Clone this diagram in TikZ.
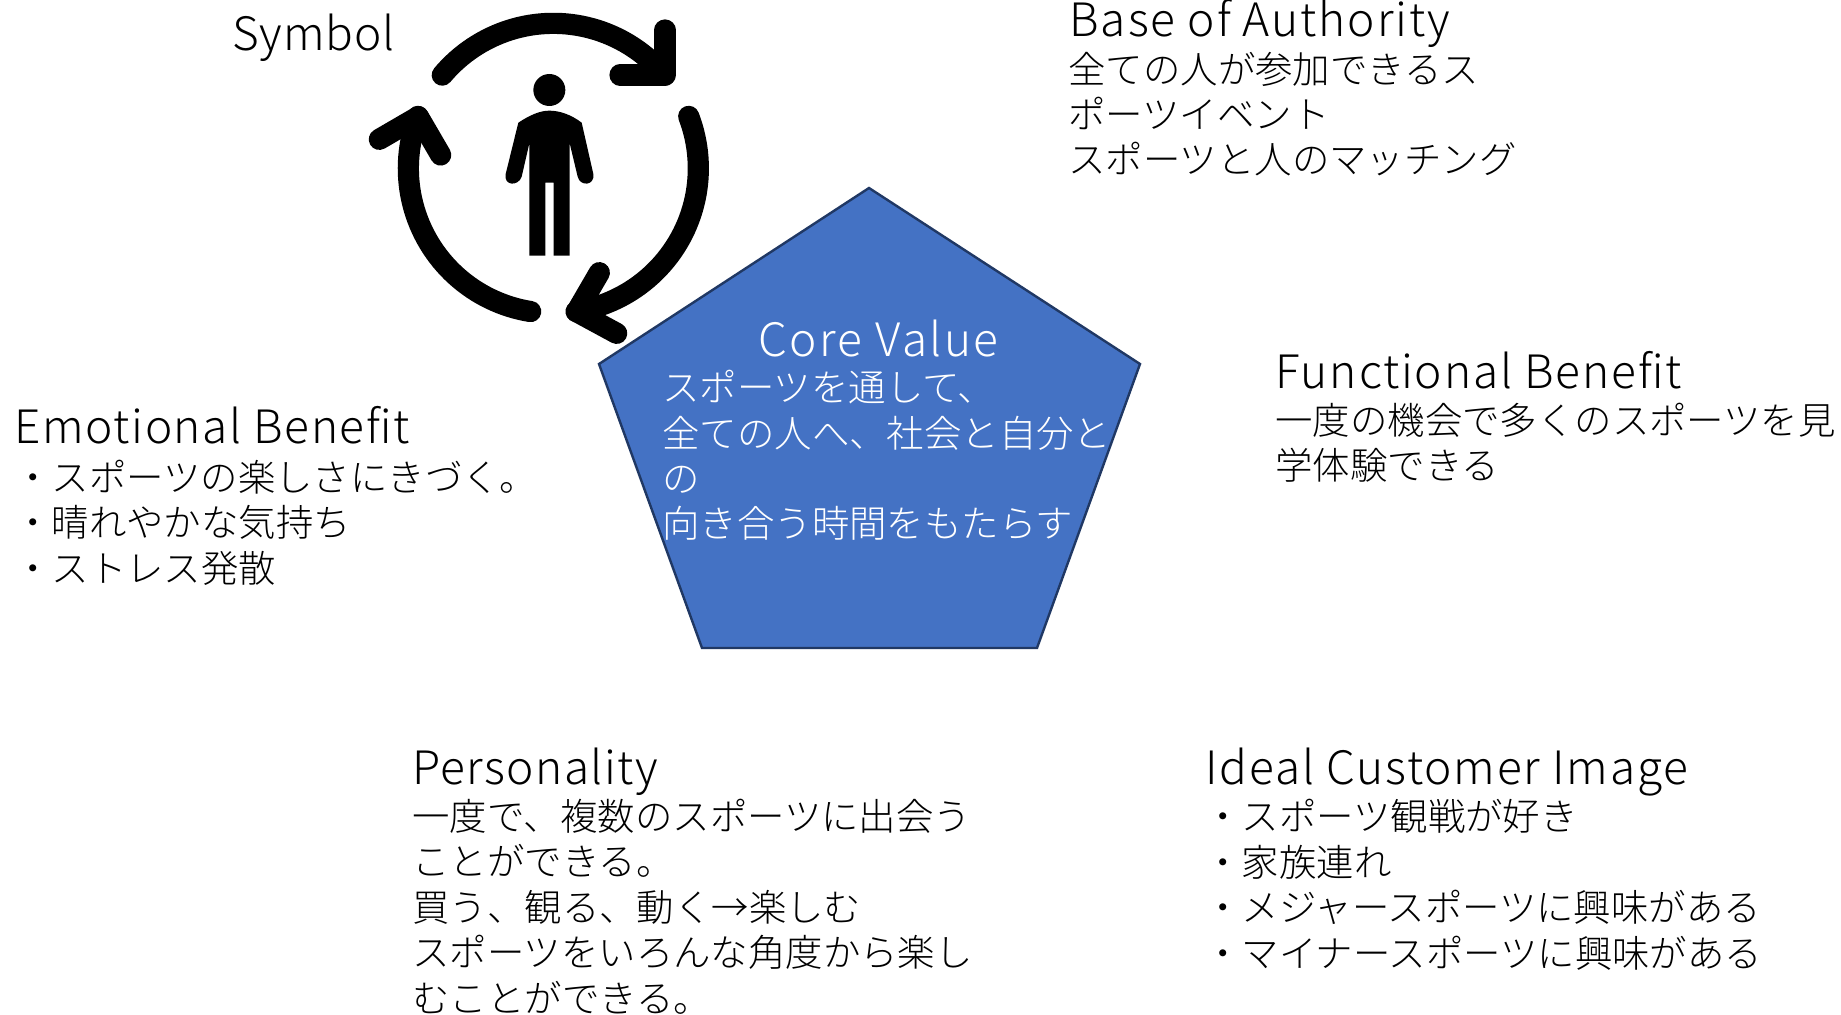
\documentclass[tikz,border=0pt]{standalone}
\usepackage{fontspec}
\setmainfont{Noto Sans CJK JP Light}
\newfontfamily\ttlfont{Noto Sans CJK JP Light}[LetterSpace=4.0]
\tikzset{
  x=0.5pt,y=-0.5pt,
  ttl/.style={anchor=base west,inner sep=0pt,font=\ttlfont\fontsize{23pt}{27pt}\selectfont,text=black},
  bdy/.style={anchor=base west,inner sep=0pt,align=left,font=\fontsize{18.7pt}{22.7pt}\selectfont,text=black},
  penta/.style={draw=penedge,fill=penfill,line width=1.2pt,line join=miter},
  ring/.style={draw=black,line width=10.6pt,line cap=round,line join=round},
}
\definecolor{penfill}{HTML}{4472C4}
\definecolor{penedge}{HTML}{203864}
\begin{document}
\begin{tikzpicture}
\useasboundingbox (0,0) rectangle (1841,1015);
% pentagon
\coordinate (pt) at (869,188);
\coordinate (pr) at (1140,364);
\coordinate (pbr) at (1037,648);
\coordinate (pbl) at (702,648);
\coordinate (pl) at (599,364);
\draw[penta] (pt)--(pr)--(pbr)--(pbl)--(pl)--cycle;
% icon
\begin{scope}[shift={(340,0)},x=0.16667pt,y=-0.16667pt]
\draw[ring] plot[domain=140:40,samples=50] ({640+435*cos(\x)},{505-435*sin(\x)});
\draw[ring] (975,90)--(975,225)--(840,225);
\draw[ring] plot[domain=21:-81,samples=50] ({640+435*cos(\x)},{505-435*sin(\x)});
\draw[ring] (778,818)--(710,935)--(830,1000);
\draw[ring] plot[domain=261:159,samples=50] ({640+435*cos(\x)},{505-435*sin(\x)});
\draw[ring] (118,418)--(235,350)--(302,465);
\fill[black] (628,270) circle[radius=48];
\fill[black,line join=round] (535,368) .. controls (570,345) and (600,332) .. (628,332)
  .. controls (660,332) and (695,345) .. (725,368)
  -- (760,522) .. controls (765,558) and (720,560) .. (713,530)
  -- (689,430) -- (689,767) -- (641,767) -- (641,548) -- (616,548) -- (616,767) -- (568,767) -- (568,430)
  -- (545,530) .. controls (535,560) and (490,558) .. (497,522) -- cycle;
\end{scope}
% text
\node[ttl] (sym) at (232,51) {\addfontfeature{LetterSpace=1.8}Symbol};
\node[ttl] (boa) at (1069,37) {\addfontfeature{LetterSpace=4.3}Base of Authority};
\node[bdy] (boab) at (1068,174) {全ての人が参加できるス\\ポーツイベント\\スポーツと人のマッチング};
\node[ttl] (fb) at (1275,389) {Functional Benefit};
\node[bdy] (fbb) at (1275,480) {一度の機会で多くのスポーツを見\\学体験できる};
\node[ttl] (eb) at (14,444) {\addfontfeature{LetterSpace=3.5}Emotional Benefit};
\node[bdy] (ebb) at (14,582) {・スポーツの楽しさにきづく。\\・晴れやかな気持ち\\・ストレス発散};
\node[ttl] (per) at (412,784) {\addfontfeature{LetterSpace=3.0}Personality};
\node[bdy] (perb) at (412,1012) {一度で、複数のスポーツに出会う\\ことができる。\\買う、観る、動く→楽しむ\\スポーツをいろんな角度から楽し\\むことができる。};
\node[ttl] (ici) at (1205,784) {Ideal Customer Image};
\node[bdy] (icib) at (1204,967) {・スポーツ観戦が好き\\・家族連れ\\・メジャースポーツに興味がある\\・マイナースポーツに興味がある};
\node[ttl,text=white] (cv) at (758,357) {\addfontfeature{LetterSpace=5.3}Core Value};
\node[bdy,text=white] (cvb) at (662,538) {スポーツを通して、\\全ての人へ、社会と自分と\\の\\向き合う時間をもたらす};
\end{tikzpicture}
\end{document}
